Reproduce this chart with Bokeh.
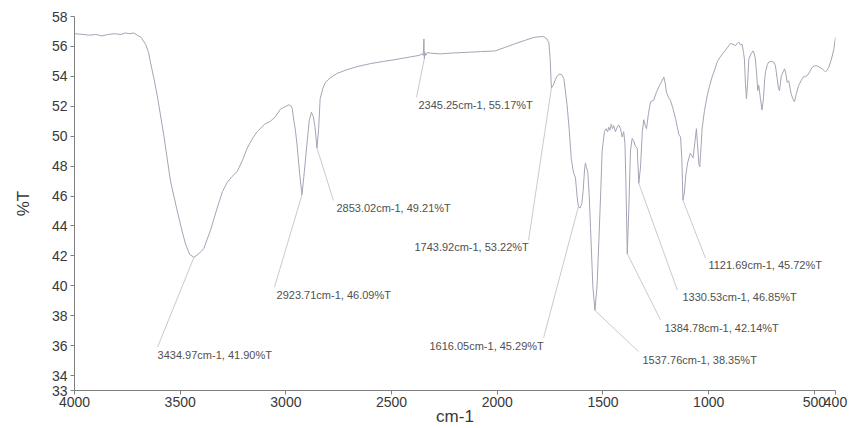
from bokeh.plotting import figure
from bokeh.models import Range1d, FixedTicker
from bokeh.core.properties import value
from bokeh.embed import file_html
from bokeh.resources import INLINE

# ---- spectrum data (wavenumber cm-1, %T) ----
wavenumber = [4000, 3960, 3930, 3900, 3870, 3840, 3810, 3780, 3760, 3740, 3720, 3703, 3685, 3664, 3650, 3640,
              3625, 3609, 3578, 3546, 3514, 3490, 3475, 3455, 3435, 3420, 3400, 3388, 3370, 3357, 3340, 3325,
              3300, 3278, 3255, 3230, 3205, 3183, 3160, 3136, 3100, 3073, 3050, 3026, 3000, 2986, 2975, 2970,
              2962, 2955, 2947, 2935, 2924, 2915, 2905, 2890, 2879, 2870, 2862, 2853, 2845, 2838, 2825, 2813,
              2790, 2757, 2710, 2663, 2600, 2537, 2470, 2411, 2370, 2355, 2350, 2347, 2345, 2343, 2338, 2330,
              2316, 2270, 2221, 2150, 2080, 2009, 1960, 1922, 1870, 1827, 1800, 1780, 1765, 1756, 1750, 1744,
              1735, 1725, 1715, 1704, 1695, 1685, 1670, 1660, 1650, 1640, 1630, 1622, 1616, 1608, 1600, 1594,
              1587, 1583, 1578, 1572, 1565, 1559, 1548, 1538, 1528, 1520, 1510, 1504, 1493, 1485, 1478, 1473,
              1467, 1461, 1455, 1449, 1441, 1433, 1425, 1417, 1409, 1402, 1396, 1392, 1385, 1378, 1370, 1362,
              1355, 1346, 1338, 1330.5, 1322, 1314, 1307, 1300, 1294, 1285, 1275, 1260, 1248, 1236, 1224, 1212,
              1205, 1200, 1190, 1181, 1170, 1157, 1148, 1141, 1133, 1127, 1121.7, 1115, 1108, 1100, 1087, 1080,
              1074, 1066, 1058, 1053, 1046, 1042, 1036, 1031, 1020, 1007, 995, 984, 970, 960, 945, 929,
              912, 897, 885, 873, 865, 858, 850, 842, 835, 831, 826, 821, 816, 810, 800, 790,
              784, 779, 772, 768, 763, 755, 748, 741, 735, 731, 722, 716, 704, 692, 684, 676,
              670, 665, 660, 656, 648, 641, 635, 629, 621, 615, 610, 602, 594, 586, 574, 563,
              553, 543, 534, 522, 511, 499, 487, 475, 463, 455, 448, 440, 432, 420, 408, 400]
transmittance = [56.85, 56.8, 56.75, 56.8, 56.7, 56.8, 56.85, 56.8, 56.9, 56.85, 56.9, 56.75, 56.6, 56.15, 55.6, 54.9,
                 53.9, 52.75, 50.1, 47.0, 45.0, 43.6, 42.8, 42.1, 41.9, 42.05, 42.3, 42.5, 43.2, 43.7, 44.5, 45.2,
                 46.3, 46.9, 47.3, 47.65, 48.4, 49.2, 49.8, 50.3, 50.8, 51.0, 51.3, 51.8, 52.0, 52.1, 52.0, 51.85,
                 51.0, 50.4, 49.4, 47.5, 46.09, 47.3, 48.8, 51.0, 51.6, 51.3, 50.6, 49.21, 50.5, 52.5, 53.2, 53.6,
                 53.9, 54.2, 54.45, 54.65, 54.85, 55.0, 55.15, 55.3, 55.4, 55.5, 55.4, 56.5, 55.17, 55.6, 55.4, 55.6,
                 55.55, 55.5, 55.55, 55.6, 55.65, 55.7, 55.95, 56.15, 56.4, 56.6, 56.65, 56.65, 56.5, 56.25, 55.2, 53.22,
                 53.4, 53.8, 54.05, 54.15, 54.1, 53.85, 52.1, 50.5, 48.5, 47.6, 47.2, 45.9, 45.29, 45.2, 45.5, 46.3,
                 47.8, 48.2, 47.9, 47.65, 46.0, 43.9, 40.0, 38.35, 40.0, 42.8, 46.5, 49.0, 50.3, 50.5, 50.3, 50.6,
                 50.4, 50.8, 50.5, 50.7, 50.3, 50.6, 50.75, 50.5, 49.95, 50.3, 49.5, 47.2, 42.14, 45.0, 49.0, 49.85,
                 49.7, 49.3, 49.2, 46.85, 48.0, 50.3, 51.1, 50.7, 50.5, 51.5, 52.3, 52.4, 52.9, 53.3, 53.6, 53.95,
                 53.5, 52.95, 52.6, 52.4, 51.9, 51.2, 50.6, 50.1, 49.95, 48.5, 45.72, 46.2, 47.4, 48.2, 48.85, 48.7,
                 48.55, 49.5, 50.5, 49.5, 48.1, 47.95, 49.3, 50.5, 51.7, 52.7, 53.4, 53.95, 54.5, 54.95, 55.3, 55.6,
                 55.9, 56.2, 56.15, 56.05, 56.2, 56.3, 56.1, 56.15, 55.6, 55.15, 53.5, 52.5, 53.5, 55.15, 55.5, 55.7,
                 55.5, 55.15, 54.0, 53.05, 53.4, 52.5, 51.75, 52.5, 53.8, 54.3, 54.8, 54.95, 55.0, 54.95, 54.7, 53.85,
                 53.2, 53.05, 53.6, 54.05, 54.3, 54.5, 54.2, 53.6, 53.7, 53.2, 52.85, 52.5, 52.3, 52.8, 53.4, 53.7,
                 53.95, 54.0, 54.05, 54.3, 54.6, 54.7, 54.7, 54.6, 54.5, 54.4, 54.3, 54.4, 54.6, 55.1, 55.8, 56.6]

# ---- peak annotations ----
peak_wn = [3434.97, 2923.71, 2853.02, 2345.25, 1743.92, 1616.05, 1537.76, 1384.78, 1330.53, 1121.69]
peak_t = [41.90, 46.09, 49.21, 55.17, 53.22, 45.29, 38.35, 42.14, 46.85, 45.72]
peak_labels = [f"{w:.2f}cm-1, {t:.2f}%T" for w, t in zip(peak_wn, peak_t)]

# ---- axis ticks / titles ----
x_ticks = [4000, 3500, 3000, 2500, 2000, 1500, 1000, 500, 400]
y_ticks = [33, 34, 36, 38, 40, 42, 44, 46, 48, 50, 52, 54, 56, 58]
x_title = "cm-1"
y_title = "%T"

# ---- layout of annotation labels (data coordinates) ----
label_x = [3607, 3044, 2761, 2373, 2392, 2321, 1313, 1209, 1124, 1001]
label_y = [35.4, 39.4, 45.17, 52.08, 42.57, 35.99, 35.06, 37.19, 39.25, 41.38]
leader_x = [3607, 3054, 2775, 2382, 1852, 1781, 1332, 1228, 1148, 1015]
leader_y = [35.9, 39.9, 45.7, 52.6, 43.04, 36.52, 35.6, 37.72, 39.7, 41.84]

FONT = "Liberation Sans"

p = figure(width=849, height=428, output_backend="svg", toolbar_location=None,
           x_range=Range1d(4000, 400), y_range=Range1d(33, 58),
           min_border_left=74, min_border_right=14, min_border_top=16, min_border_bottom=36)
p.outline_line_color = None
p.xgrid.visible = False
p.ygrid.visible = False
p.background_fill_color = "white"
p.border_fill_color = "white"

# leader lines
p.segment(x0=peak_wn, y0=peak_t, x1=leader_x, y1=leader_y, line_color="#bdbdbd", line_width=0.8)

# spectrum
p.line(wavenumber, transmittance, line_color="#a5a3b6", line_width=1)

# labels
p.text(x=label_x, y=label_y, text=peak_labels, text_font=value(FONT), text_font_size="11px",
       text_color="#505050", text_baseline="middle", text_align="left")

for ax in (p.xaxis[0], p.yaxis[0]):
    ax.axis_line_color = "#808080"
    ax.major_tick_line_color = "#808080"
    ax.minor_tick_line_color = None
    ax.major_tick_out = 4
    ax.major_tick_in = 0
    ax.major_label_text_font = FONT
    ax.major_label_text_font_size = "14px"
    ax.major_label_text_color = "#383838"
    ax.axis_label_text_font = FONT
    ax.axis_label_text_font_size = "17px"
    ax.axis_label_text_font_style = "normal"
    ax.axis_label_text_color = "#383838"

p.xaxis[0].ticker = FixedTicker(ticks=x_ticks)
p.yaxis[0].ticker = FixedTicker(ticks=y_ticks)
p.xaxis[0].axis_label = x_title
p.yaxis[0].axis_label = y_title
p.xaxis[0].major_label_standoff = 2
p.xaxis[0].axis_label_standoff = -3
p.yaxis[0].major_label_standoff = 3
p.yaxis[0].axis_label_standoff = 16

open("out.html", "w").write(file_html(p, INLINE))
